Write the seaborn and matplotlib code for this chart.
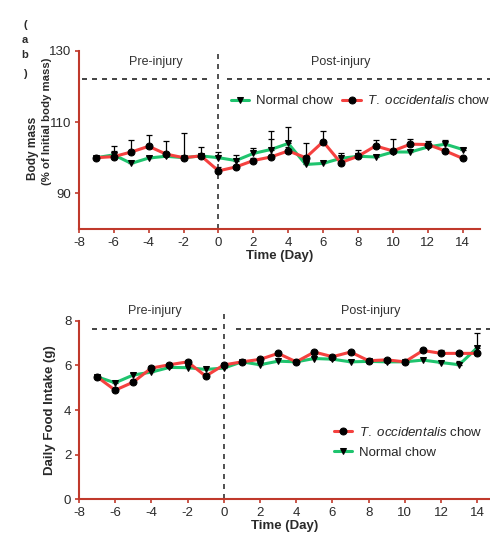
import numpy as np
import pandas as pd
import matplotlib
matplotlib.use("Agg")
import matplotlib.pyplot as plt
import seaborn as sns

days = list(range(-7, 15))

# Body mass (% of initial)
top_normal = [100.0, 100.8, 98.4, 99.9, 100.4, 100.0, 100.5, 100.0, 99.2, 101.2, 102.3,
              104.0, 98.1, 98.4, 99.8, 100.4, 100.2, 101.6, 101.6, 103.0, 103.8, 102.3]
top_tocc = [100.0, 100.3, 101.6, 103.2, 101.0, 100.0, 100.5, 96.3, 97.4, 99.2, 100.2,
            101.9, 100.0, 104.5, 98.6, 100.4, 103.3, 101.9, 103.8, 103.7, 101.9, 99.8]
top_err_normal = [0.3, 2.4, 0.5, 0.5, 0.8, 0.5, 0.6, 1.6, 1.6, 1.4, 5.3,
                  4.7, 0.5, 0.5, 1.4, 1.8, 0.5, 0.6, 0.5, 0.6, 1.3, 0.3]
top_err_tocc = [0.3, 1.5, 3.3, 3.2, 3.7, 7.0, 2.6, 1.0, 0.5, 0.6, 5.1,
                1.0, 4.2, 3.0, 0.8, 1.0, 1.8, 3.4, 1.5, 0.9, 0.6, 0.4]

# Daily food intake (g)
bot_tocc = [5.49, 4.89, 5.25, 5.88, 6.03, 6.16, 5.52, 6.02, 6.16, 6.27, 6.54,
            6.16, 6.60, 6.39, 6.60, 6.21, 6.25, 6.16, 6.67, 6.54, 6.54, 6.54]
bot_normal = [5.49, 5.22, 5.57, 5.70, 5.91, 5.90, 5.82, 5.88, 6.16, 6.03, 6.19,
              6.16, 6.31, 6.28, 6.16, 6.18, 6.16, 6.16, 6.24, 6.13, 6.03, 6.80]
bot_err_tocc = [0.08, 0.08, 0.08, 0.08, 0.08, 0.08, 0.08, 0.08, 0.05, 0.05, 0.05,
                0.05, 0.05, 0.05, 0.05, 0.05, 0.05, 0.05, 0.05, 0.15, 0.05, 0.05]
bot_err_normal = [0.05, 0.08, 0.08, 0.08, 0.08, 0.08, 0.08, 0.08, 0.05, 0.05, 0.05,
                  0.05, 0.05, 0.05, 0.05, 0.05, 0.05, 0.05, 0.05, 0.05, 0.15, 0.66]

lbl_normal = "Normal chow"
lbl_tocc = r"$\it{T.\ occidentalis}$ chow"

sns.set_style("ticks")
plt.rcParams['font.family'] = ['Liberation Sans', 'DejaVu Sans']
plt.rcParams['mathtext.fontset'] = 'custom'
plt.rcParams['mathtext.it'] = 'Liberation Sans:italic'
plt.rcParams['mathtext.rm'] = 'Liberation Sans'
plt.rcParams['axes.unicode_minus'] = False

GREEN = "#1fc46e"
RED = "#f5413f"
SPINE = "#c0392b"
TXT = "#2a2a2a"

fig = plt.figure(figsize=(4.9, 5.36), dpi=100)
ax1 = fig.add_axes([0.161, 0.573, 0.819, 0.332])
ax2 = fig.add_axes([0.161, 0.0685, 0.839, 0.333])

def draw(ax, normal, tocc, en, et):
    df = pd.DataFrame({"day": days, "normal": normal, "tocc": tocc})
    series = {
        "normal": (normal, en, GREEN, "v", lbl_normal),
        "tocc": (tocc, et, RED, "o", lbl_tocc),
    }
    for key in ["normal", "tocc"]:
        vals, err, col, mk, lab = series[key]
        ax.errorbar(days, vals, yerr=[np.zeros(len(err)), err], fmt="none",
                    ecolor="black", elinewidth=0.9, capsize=2.4, capthick=0.9, zorder=2)
    for key in ["normal", "tocc"]:
        vals, err, col, mk, lab = series[key]
        sns.lineplot(data=df, x="day", y=key, ax=ax, color=col, linewidth=2.2,
                     marker=mk, markersize=5, markerfacecolor="black",
                     markeredgecolor="black", label=lab, zorder=3)

draw(ax1, top_normal, top_tocc, top_err_normal, top_err_tocc)
draw(ax2, bot_normal, bot_tocc, bot_err_normal, bot_err_tocc)

for ax in (ax1, ax2):
    sns.despine(ax=ax)
    for s in ("left", "bottom"):
        ax.spines[s].set_color(SPINE)
        ax.spines[s].set_linewidth(1.5)
    ax.tick_params(axis="both", colors=SPINE, labelcolor=TXT,
                   labelsize=9.5, length=3, width=1.2, pad=2.5)
    ax.set_xticks(range(-8, 15, 2))
    ax.set_xlabel("Time (Day)", fontsize=9.5, fontweight="bold", labelpad=1, color=TXT)

# top panel
ax1.set_xlim(-8, 15)
ax1.set_ylim(80, 130)
ax1.set_yticks([90, 110, 130])
ax1.set_ylabel("")
fig.text(33 / 490, 1 - 148 / 536, "Body mass", rotation=90, ha="center", va="center",
         fontsize=8.6, fontweight="bold", color=TXT)
fig.text(47 / 490, 1 - 121 / 536, "(% of Initial body mass)", rotation=90, ha="center",
         va="center", fontsize=8.2, fontweight="bold", color=TXT,
         family=["Liberation Sans Narrow", "Liberation Sans"])
ax1.axvline(0, color="#333333", ls=(0, (3, 3)), lw=1.2, zorder=1)
ax1.plot([-7.8, -0.6], [122.1, 122.1], color="#222222", ls=(0, (3, 3)), lw=1.2,
         clip_on=False)
ax1.plot([0.5, 15.6], [122.1, 122.1], color="#222222", ls=(0, (3, 3)), lw=1.2,
         clip_on=False)
ax1.text(-3.6, 127, "Pre-injury", ha="center", va="center", fontsize=9, color="#333333")
ax1.text(7.0, 127, "Post-injury", ha="center", va="center", fontsize=9, color="#333333")
h, l = ax1.get_legend_handles_labels()
ax1.legend(h, l, loc="center left", bbox_to_anchor=(0.379, 0.72), ncol=2, frameon=False,
           fontsize=9.5, handlelength=1.4, handletextpad=0.5, columnspacing=0.7,
           borderaxespad=0, borderpad=0)

# bottom panel
ax2.set_xlim(-8, 14.7)
ax2.set_ylim(0, 8)
ax2.set_yticks([0, 2, 4, 6, 8])
ax2.set_ylabel("Daily Food Intake (g)", fontsize=9.5, fontweight="bold", labelpad=6,
               color=TXT)
ax2.plot([0, 0], [0, 8.3], color="#333333", ls=(0, (3, 3)), lw=1.2, zorder=1,
         clip_on=False)
ax2.plot([-7.3, -0.3], [7.61, 7.61], color="#222222", ls=(0, (3, 3)), lw=1.2,
         clip_on=False)
ax2.plot([0.7, 14.7], [7.61, 7.61], color="#222222", ls=(0, (3, 3)), lw=1.2,
         clip_on=False)
ax2.text(-3.8, 8.45, "Pre-injury", ha="center", va="center", fontsize=9, color="#333333")
ax2.text(8.1, 8.45, "Post-injury", ha="center", va="center", fontsize=9, color="#333333")
h, l = ax2.get_legend_handles_labels()
ax2.legend([h[1], h[0]], [l[1], l[0]], loc="center left", bbox_to_anchor=(0.62, 0.32),
           frameon=False, fontsize=9.5, handlelength=1.4, handletextpad=0.5,
           labelspacing=0.6, borderaxespad=0, borderpad=0)

# panel label fragments
for ch, yy in [("(", 25), ("a", 40), ("b", 55), (")", 74)]:
    fig.text(25 / 490, 1 - yy / 536, ch, ha="center", va="center", fontsize=8,
             fontweight="bold", color=TXT)

fig.savefig("out.png", dpi=100)
